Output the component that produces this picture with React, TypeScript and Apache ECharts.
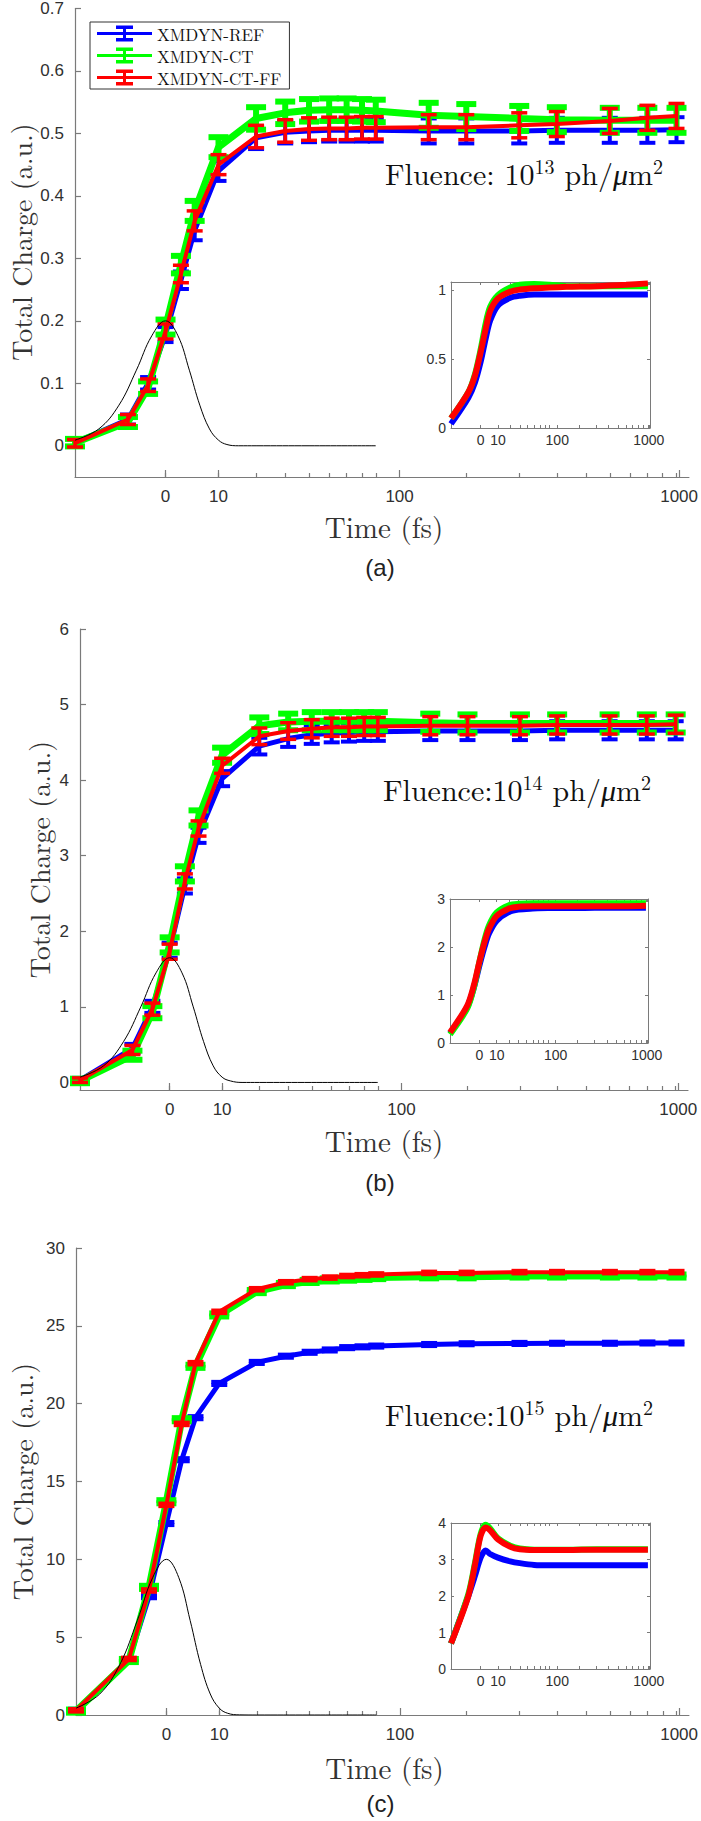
import React, { useEffect, useRef } from 'react';
import * as echarts from 'echarts';

// ---------------- data ----------------
// time axis is drawn as log10(t + 20) fs, as in the original figure
const T_OFFSET = 20;
const X_MIN_T = -10;
const X_MAX_T_MAIN = 1080;
const X_MAX_T_INSET = 1030;

const timePoints = [-10, -5, -2.5, 0, 2.5, 5, 10, 20, 30, 40, 50, 60, 70, 80, 130, 180, 280, 380, 580, 780, 980];
const insetTimes = [-10, -5, -2.5, 0, 2.5, 5, 10, 20, 30, 50, 80, 130, 280, 580, 980];
const pulseTimes = [-10, -8, -6, -4, -2, 0, 2, 4, 6, 8, 10, 12, 15, 20, 40, 80];

const tickLabelTimes = [0, 10, 100, 1000];
const minorTickShifted = [20, 30, 40, 50, 60, 70, 80, 90, 100, 200, 300, 400, 500, 600, 700, 800, 900, 1000];

// (a) fluence 1e13
const refA = [0.005, 0.042, 0.1, 0.178, 0.265, 0.345, 0.44, 0.493, 0.502, 0.504, 0.505, 0.505, 0.505, 0.505, 0.504, 0.504, 0.504, 0.505, 0.505, 0.505, 0.506];
const ctA = [0.005, 0.038, 0.093, 0.19, 0.29, 0.376, 0.478, 0.524, 0.533, 0.537, 0.538, 0.538, 0.537, 0.536, 0.529, 0.527, 0.524, 0.522, 0.521, 0.521, 0.521];
const ffA = [0.004, 0.042, 0.097, 0.183, 0.275, 0.36, 0.45, 0.495, 0.504, 0.507, 0.508, 0.508, 0.509, 0.509, 0.51, 0.51, 0.513, 0.515, 0.52, 0.525, 0.528];
const errA = [0.006, 0.008, 0.01, 0.012, 0.014, 0.016, 0.016, 0.018, 0.018, 0.018, 0.018, 0.018, 0.018, 0.018, 0.02, 0.02, 0.02, 0.02, 0.02, 0.02, 0.02];
const pulseA = [0.009, 0.027, 0.065, 0.121, 0.176, 0.2, 0.176, 0.121, 0.065, 0.027, 0.009, 0.002, 0, 0, 0, 0];
const insetRefA = [0.03, 0.22, 0.33, 0.48, 0.65, 0.78, 0.89, 0.945, 0.96, 0.97, 0.97, 0.97, 0.97, 0.97, 0.97];
const insetCtA = [0.07, 0.26, 0.39, 0.57, 0.76, 0.88, 0.965, 1.02, 1.04, 1.045, 1.04, 1.03, 1.03, 1.03, 1.03];
const insetFfA = [0.07, 0.26, 0.38, 0.55, 0.72, 0.85, 0.94, 0.99, 1.005, 1.015, 1.02, 1.025, 1.03, 1.04, 1.05];

// (b) fluence 1e14
const refB = [0.03, 0.45, 1.0, 1.75, 2.6, 3.27, 4.02, 4.45, 4.55, 4.6, 4.62, 4.63, 4.64, 4.64, 4.65, 4.65, 4.65, 4.66, 4.66, 4.66, 4.66];
const ctB = [0.02, 0.36, 0.93, 1.82, 2.76, 3.5, 4.33, 4.72, 4.77, 4.78, 4.78, 4.78, 4.78, 4.78, 4.76, 4.75, 4.75, 4.75, 4.75, 4.75, 4.75];
const ffB = [0.03, 0.43, 0.97, 1.73, 2.66, 3.36, 4.19, 4.58, 4.65, 4.68, 4.7, 4.7, 4.71, 4.71, 4.72, 4.72, 4.72, 4.73, 4.73, 4.73, 4.74];
const errB = [0.03, 0.06, 0.08, 0.1, 0.1, 0.1, 0.1, 0.11, 0.11, 0.12, 0.12, 0.12, 0.12, 0.12, 0.12, 0.12, 0.12, 0.12, 0.12, 0.12, 0.12];
const pulseB = [0.07, 0.22, 0.54, 1.0, 1.45, 1.65, 1.45, 1.0, 0.54, 0.22, 0.07, 0.02, 0, 0, 0, 0];
const insetRefB = [0.2, 0.75, 1.15, 1.62, 2.0, 2.28, 2.55, 2.73, 2.78, 2.8, 2.81, 2.81, 2.82, 2.82, 2.82];
const insetCtB = [0.18, 0.72, 1.15, 1.7, 2.15, 2.45, 2.72, 2.87, 2.9, 2.91, 2.91, 2.91, 2.91, 2.91, 2.91];
const insetFfB = [0.22, 0.78, 1.2, 1.7, 2.1, 2.38, 2.65, 2.8, 2.84, 2.85, 2.85, 2.85, 2.85, 2.85, 2.86];

// (c) fluence 1e15
const refC = [0.3, 3.5, 7.6, 12.3, 16.4, 19.1, 21.3, 22.65, 23.05, 23.3, 23.45, 23.6, 23.65, 23.7, 23.8, 23.85, 23.87, 23.88, 23.88, 23.9, 23.9];
const ctC = [0.25, 3.5, 8.2, 13.7, 18.97, 22.4, 25.7, 27.2, 27.65, 27.85, 27.95, 28.0, 28.05, 28.1, 28.15, 28.15, 28.2, 28.2, 28.2, 28.2, 28.2];
const ffC = [0.3, 3.6, 8.0, 13.5, 18.7, 22.6, 25.9, 27.35, 27.8, 28.0, 28.1, 28.2, 28.25, 28.3, 28.4, 28.4, 28.45, 28.45, 28.45, 28.45, 28.45];
const errC = [0.1, 0.1, 0.1, 0.1, 0.1, 0.1, 0.1, 0.1, 0.1, 0.1, 0.1, 0.1, 0.1, 0.1, 0.1, 0.1, 0.1, 0.1, 0.1, 0.1, 0.1];
const pulseC = [0.44, 1.35, 3.25, 6.07, 8.82, 10, 8.82, 6.07, 3.25, 1.35, 0.44, 0.11, 0.01, 0, 0, 0];
const insetRefC = [0.7, 2.0, 2.55, 3.05, 3.25, 3.15, 3.05, 2.95, 2.9, 2.85, 2.84, 2.84, 2.84, 2.84, 2.84];
const insetCtC = [0.7, 2.05, 2.9, 3.7, 3.95, 3.85, 3.58, 3.38, 3.3, 3.27, 3.27, 3.27, 3.28, 3.28, 3.28];
const insetFfC = [0.7, 2.0, 2.85, 3.65, 3.88, 3.8, 3.55, 3.35, 3.28, 3.26, 3.26, 3.26, 3.27, 3.27, 3.27];

const seriesNames = ['XMDYN-REF', 'XMDYN-CT', 'XMDYN-CT-FF'];
const yTicksA = [0, 0.1, 0.2, 0.3, 0.4, 0.5, 0.6, 0.7];
const yTicksB = [0, 1, 2, 3, 4, 5, 6];
const yTicksC = [0, 5, 10, 15, 20, 25, 30];
const insetTicksA = [0, 0.5, 1];
const insetTicksB = [0, 1, 2, 3];
const insetTicksC = [0, 1, 2, 3, 4];

// ---------------- styles ----------------
const COLORS = ['#0000ff', '#00ff00', '#ff0000'];
const LINE_W = [5, 7, 4];
const ERR_W = [4, 6, 3.5];
const CAP_HALF = [8, 10, 8];
const AXIS = '#7a7a7a';
const LABEL = '#303030';
const SERIF = "'Latin Modern Roman', 'CMU Serif', 'Liberation Serif', 'DejaVu Serif', serif";
const SANS = "'Liberation Sans', Arial, Helvetica, sans-serif";

const sx = (t: number) => Math.log10(t + T_OFFSET);

type Box = { left: number; right: number; top: number; bottom: number };
type Panel = {
  mainBox: Box; insetBox: Box;
  yMin: number; yMax: number; yTicks: number[];
  insetYMax: number; insetTicks: number[];
  values: number[][]; err: number[]; pulse: number[]; insetVals: number[][];
  label: string; fluenceExp: string; fluenceGap: string;
  yNameX: number; timeY: number; labelY: number; fluenceX: number; fluenceY: number;
};

const panels: Panel[] = [
  {
    mainBox: { left: 75, right: 693, top: 7, bottom: 477 },
    insetBox: { left: 451, right: 650, top: 282, bottom: 428 },
    yMin: -0.05, yMax: 0.7, yTicks: yTicksA, insetYMax: 1.06, insetTicks: insetTicksA,
    values: [refA, ctA, ffA], err: errA, pulse: pulseA, insetVals: [insetRefA, insetCtA, insetFfA],
    label: '(a)', fluenceExp: '13', fluenceGap: ' ',
    yNameX: 20, timeY: 525, labelY: 567, fluenceX: 385, fluenceY: 172,
  },
  {
    mainBox: { left: 80, right: 688, top: 629, bottom: 1090 },
    insetBox: { left: 450, right: 648, top: 899, bottom: 1043 },
    yMin: -0.1, yMax: 6, yTicks: yTicksB, insetYMax: 3, insetTicks: insetTicksB,
    values: [refB, ctB, ffB], err: errB, pulse: pulseB, insetVals: [insetRefB, insetCtB, insetFfB],
    label: '(b)', fluenceExp: '14', fluenceGap: '',
    yNameX: 38, timeY: 1139, labelY: 1182, fluenceX: 383, fluenceY: 788,
  },
  {
    mainBox: { left: 76, right: 693, top: 1248, bottom: 1715 },
    insetBox: { left: 451, right: 650, top: 1523, bottom: 1669 },
    yMin: 0, yMax: 30, yTicks: yTicksC, insetYMax: 4, insetTicks: insetTicksC,
    values: [refC, ctC, ffC], err: errC, pulse: pulseC, insetVals: [insetRefC, insetCtC, insetFfC],
    label: '(c)', fluenceExp: '15', fluenceGap: '',
    yNameX: 21, timeY: 1766, labelY: 1803, fluenceX: 385, fluenceY: 1413,
  },
];

const fmtX = (val: number) => String(Math.round(Math.pow(10, val) - T_OFFSET));
const fmtY = (val: number) => String(+Number(val).toFixed(2));

function errRender(color: string, lw: number, half: number) {
  return (_params: any, api: any) => {
    const x = api.value(0);
    const a = api.coord([x, api.value(1)]);
    const b = api.coord([x, api.value(2)]);
    const style = { stroke: color, lineWidth: lw, fill: 'none' };
    return {
      type: 'group',
      children: [
        { type: 'line', shape: { x1: a[0], y1: a[1], x2: b[0], y2: b[1] }, style },
        { type: 'line', shape: { x1: a[0] - half, y1: a[1], x2: a[0] + half, y2: a[1] }, style },
        { type: 'line', shape: { x1: b[0] - half, y1: b[1], x2: b[0] + half, y2: b[1] }, style },
      ],
    };
  };
}

const LEGEND_ICON = 'path://M0 6.5H55V9.5H0Z M19 0H36V3.5H19Z M19 12.5H36V16H19Z M26 0H29V16H26Z';

function buildOption() {
  const grid: any[] = [];
  const xAxis: any[] = [];
  const yAxis: any[] = [];
  const series: any[] = [];
  const graphic: any[] = [];

  const majorTicks = tickLabelTimes.map(sx);
  const minorTicks = minorTickShifted.map((v) => Math.log10(v));

  panels.forEach((p, pi) => {
    const gMain = grid.length;
    grid.push({ left: p.mainBox.left, top: p.mainBox.top, width: p.mainBox.right - p.mainBox.left, height: p.mainBox.bottom - p.mainBox.top });
    const gIn = grid.length;
    grid.push({ left: p.insetBox.left, top: p.insetBox.top, width: p.insetBox.right - p.insetBox.left, height: p.insetBox.bottom - p.insetBox.top });

    const xMin = sx(X_MIN_T);
    const xMaxMain = sx(X_MAX_T_MAIN);
    const xMaxIn = sx(X_MAX_T_INSET);

    const xMainIdx = xAxis.length;
    xAxis.push({
      type: 'value', gridIndex: gMain, position: 'bottom', min: xMin, max: xMaxMain,
      axisLine: { show: true, onZero: false, lineStyle: { color: AXIS, width: 1.2 } },
      axisTick: { show: true, inside: true, length: 7, customValues: majorTicks, lineStyle: { color: AXIS, width: 1.2 } },
      axisLabel: { show: true, customValues: majorTicks, formatter: fmtX, color: LABEL, fontFamily: SANS, fontSize: 17, margin: 11 },
      splitLine: { show: false },
    });
    xAxis.push({
      type: 'value', gridIndex: gMain, position: 'bottom', min: xMin, max: xMaxMain,
      axisLine: { show: false, onZero: false },
      axisTick: { show: true, inside: true, length: 4, customValues: minorTicks, lineStyle: { color: AXIS, width: 1.2 } },
      axisLabel: { show: false },
      splitLine: { show: false },
    });
    const yMainIdx = yAxis.length;
    yAxis.push({
      type: 'value', gridIndex: gMain, position: 'left', min: p.yMin, max: p.yMax,
      axisLine: { show: true, onZero: false, lineStyle: { color: AXIS, width: 1.2 } },
      axisTick: { show: true, inside: true, length: 6, customValues: p.yTicks, lineStyle: { color: AXIS, width: 1.2 } },
      axisLabel: { show: true, customValues: p.yTicks, formatter: fmtY, color: LABEL, fontFamily: SANS, fontSize: 17, margin: 11 },
      splitLine: { show: false },
    });

    // inset axes
    const insetXTicks = majorTicks.concat(minorTicks);
    const xInIdx = xAxis.length;
    xAxis.push({
      type: 'value', gridIndex: gIn, position: 'bottom', min: xMin, max: xMaxIn,
      axisLine: { show: true, onZero: false, lineStyle: { color: AXIS, width: 1 } },
      axisTick: { show: true, inside: true, length: 3, customValues: insetXTicks, lineStyle: { color: AXIS } },
      axisLabel: { show: true, customValues: majorTicks, formatter: fmtX, color: LABEL, fontFamily: SANS, fontSize: 14, margin: 5 },
      splitLine: { show: false },
    });
    xAxis.push({
      type: 'value', gridIndex: gIn, position: 'top', min: xMin, max: xMaxIn,
      axisLine: { show: true, onZero: false, lineStyle: { color: AXIS, width: 1 } },
      axisTick: { show: true, inside: true, length: 3, customValues: insetXTicks, lineStyle: { color: AXIS } },
      axisLabel: { show: false },
      splitLine: { show: false },
    });
    const yInIdx = yAxis.length;
    yAxis.push({
      type: 'value', gridIndex: gIn, position: 'left', min: 0, max: p.insetYMax,
      axisLine: { show: true, onZero: false, lineStyle: { color: AXIS, width: 1 } },
      axisTick: { show: true, inside: true, length: 3, customValues: p.insetTicks, lineStyle: { color: AXIS } },
      axisLabel: { show: true, customValues: p.insetTicks, formatter: fmtY, color: LABEL, fontFamily: SANS, fontSize: 14, margin: 5 },
      splitLine: { show: false },
    });
    yAxis.push({
      type: 'value', gridIndex: gIn, position: 'right', min: 0, max: p.insetYMax,
      axisLine: { show: true, onZero: false, lineStyle: { color: AXIS, width: 1 } },
      axisTick: { show: true, inside: true, length: 3, customValues: p.insetTicks, lineStyle: { color: AXIS } },
      axisLabel: { show: false },
      splitLine: { show: false },
    });

    // data series
    p.values.forEach((vals, si) => {
      const name = pi === 0 ? seriesNames[si] : seriesNames[si] + ' ' + p.label;
      series.push({
        type: 'line', name, xAxisIndex: xMainIdx, yAxisIndex: yMainIdx,
        data: timePoints.map((t, i) => [sx(t), vals[i]]),
        symbol: 'none', lineStyle: { color: COLORS[si], width: LINE_W[si] },
        itemStyle: { color: COLORS[si] }, z: 2 + si,
      });
      series.push({
        type: 'custom', name: name + ' err', xAxisIndex: xMainIdx, yAxisIndex: yMainIdx,
        data: timePoints.map((t, i) => [sx(t), vals[i] - p.err[i], vals[i] + p.err[i]]),
        encode: { x: 0, y: [1, 2] }, clip: false, z: 2 + si,
        renderItem: errRender(COLORS[si], ERR_W[si], CAP_HALF[si]),
      });
    });
    p.insetVals.forEach((vals, si) => {
      series.push({
        type: 'line', name: 'inset ' + si + ' ' + p.label, xAxisIndex: xInIdx, yAxisIndex: yInIdx,
        data: insetTimes.map((t, i) => [sx(t), vals[i]]),
        symbol: 'none', smooth: 0.3, lineStyle: { color: COLORS[si], width: 6 }, z: 2 + si,
      });
    });
    series.push({
      type: 'line', name: 'pulse ' + p.label, xAxisIndex: xMainIdx, yAxisIndex: yMainIdx,
      data: pulseTimes.map((t, i) => [sx(t), p.pulse[i]]),
      symbol: 'none', smooth: 0.4, lineStyle: { color: '#000', width: 1 }, z: 6,
    });

    // texts
    const cx = (p.mainBox.left + p.mainBox.right) / 2;
    graphic.push({
      type: 'text', x: p.yNameX, y: (p.mainBox.top + p.mainBox.bottom) / 2, rotation: Math.PI / 2,
      style: { text: 'Total Charge (a.u.)', fontFamily: SERIF, fontSize: 28, fill: '#333', textAlign: 'center', textVerticalAlign: 'middle' },
    });
    graphic.push({
      type: 'text', x: cx, y: p.timeY,
      style: { text: 'Time (fs)', fontFamily: SERIF, fontSize: 29, fill: '#333', textAlign: 'center', textVerticalAlign: 'middle' },
    });
    graphic.push({
      type: 'text', x: cx - 4, y: p.labelY,
      style: { text: p.label, fontFamily: SANS, fontSize: 24, fill: '#222', textAlign: 'center', textVerticalAlign: 'middle' },
    });
    graphic.push({
      type: 'text', x: p.fluenceX, y: p.fluenceY,
      style: {
        text: '{a|Fluence:' + p.fluenceGap + '10}{s|' + p.fluenceExp + '}{a| ph/}{i|μ}{a|m}{s|2}',
        textAlign: 'left', textVerticalAlign: 'middle',
        rich: {
          a: { fontFamily: SERIF, fontSize: 30, lineHeight: 34, fill: '#111', verticalAlign: 'middle' },
          i: { fontFamily: SERIF, fontSize: 30, lineHeight: 34, fill: '#111', fontStyle: 'italic', verticalAlign: 'middle' },
          s: { fontFamily: SERIF, fontSize: 20, lineHeight: 20, fill: '#111', verticalAlign: 'top' },
        },
      },
    });
  });

  return {
    animation: false,
    backgroundColor: '#ffffff',
    grid, xAxis, yAxis, series, graphic,
    legend: {
      left: 90, top: 22, orient: 'vertical', selectedMode: false,
      itemWidth: 55, itemHeight: 16, itemGap: 5, padding: [3, 8, 3, 7],
      borderColor: '#333', borderWidth: 1, backgroundColor: '#fff',
      textStyle: { fontFamily: SERIF, fontSize: 17, color: '#111', padding: [0, 0, 0, 0] },
      data: seriesNames.map((n) => ({ name: n, icon: LEGEND_ICON })),
    },
  };
}

export default function App() {
  const ref = useRef<HTMLDivElement>(null);
  useEffect(() => {
    if (!ref.current) return;
    document.body.style.margin = '0';
    const chart = echarts.init(ref.current, undefined, { renderer: 'svg', width: 701, height: 1821 });
    chart.setOption(buildOption() as any);
    return () => chart.dispose();
  }, []);
  return <div ref={ref} style={{ position: 'absolute', left: 0, top: 0, width: 701, height: 1821, background: '#fff' }} />;
}
